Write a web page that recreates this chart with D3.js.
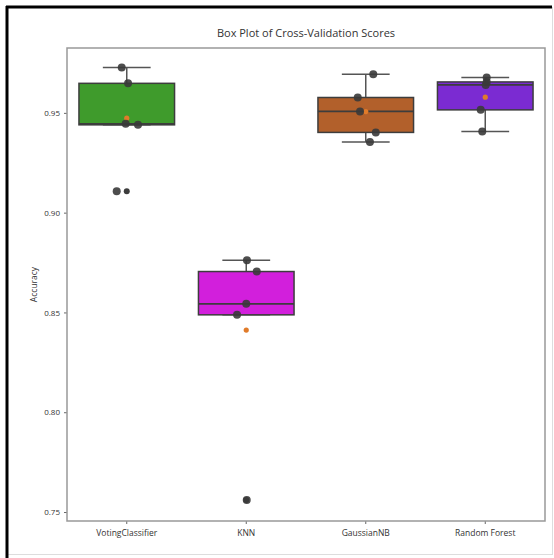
<!DOCTYPE html>
<html>
<head>
<meta charset="utf-8">
<script src="https://cdn.jsdelivr.net/npm/d3@7"></script>
<style>
    body { margin: 0; background: #fff; }
    svg text { font-family: "Open Sans", "DejaVu Sans", sans-serif; fill: #333; }
</style>
</head>
<body>
<div id="chart"></div>
<script>
;(function () {

    // models and their 5-fold cross-validation accuracies
    var models = ['VotingClassifier', 'KNN', 'GaussianNB', 'Random Forest'];
    var votingScores = [0.9727, 0.9648, 0.9445, 0.9440, 0.9107];
    var knnScores = [0.8762, 0.8705, 0.8543, 0.8488, 0.7560];
    var gaussianScores = [0.9693, 0.9577, 0.9507, 0.9402, 0.9354];
    var forestScores = [0.9677, 0.9655, 0.9640, 0.9515, 0.9407];
    // strip-plot jitter, fraction of band width
    var votingJitter = [-0.042, 0.011, -0.009, 0.094, -0.084];
    var knnJitter = [0.006, 0.088, 0.0, -0.077, 0.004];
    var gaussianJitter = [0.063, -0.067, -0.048, 0.084, 0.035];
    var forestJitter = [0.012, 0.012, 0.004, -0.038, -0.025];
    var boxColors = ['#3f9b2c', '#d21fdc', '#b2602b', '#7b2bd2'];
    var yTicks = [0.75, 0.80, 0.85, 0.90, 0.95];

    var scores = [votingScores, knnScores, gaussianScores, forestScores];
    var jitters = [votingJitter, knnJitter, gaussianJitter, forestJitter];

    var width = 554
        , height = 558
        , margin = {top: 48, right: 9, bottom: 37, left: 67};

    var svg = d3.select('#chart').append('svg')
        .attr('width', width)
        .attr('height', height);

    // screenshot frame
    svg.append('rect')
        .attr('x', 7.5).attr('y', 7.5)
        .attr('width', 545).attr('height', 547)
        .attr('fill', 'none')
        .attr('stroke', '#ddd');
    svg.append('line')
        .attr('x1', 7).attr('x2', 7).attr('y1', 6).attr('y2', height)
        .attr('stroke', '#000').attr('stroke-width', 3);
    svg.append('line')
        .attr('x1', 6).attr('x2', 552).attr('y1', 7).attr('y2', 7)
        .attr('stroke', '#000').attr('stroke-width', 3);

    var x = d3.scaleBand()
        .domain(models)
        .range([margin.left, width - margin.right]);

    var y = d3.scaleLinear()
        .domain([0.7455, 0.9825])
        .range([height - margin.bottom, margin.top]);

    var g = svg.append('g');

    // axes
    g.append('g')
        .attr('transform', 'translate(' + margin.left + ',0)')
        .call(d3.axisLeft(y).tickValues(yTicks).tickFormat(d3.format('.2f')).tickSize(3).tickPadding(4))
        .call(function (a) {
            a.select('.domain').remove();
            a.selectAll('line').attr('stroke', '#666');
            a.selectAll('text').attr('font-size', 8).attr('fill', '#444');
        });

    g.append('g')
        .attr('transform', 'translate(0,' + (height - margin.bottom) + ')')
        .call(d3.axisBottom(x).tickSize(3).tickPadding(6))
        .call(function (a) {
            a.select('.domain').remove();
            a.selectAll('line').attr('stroke', '#666');
            a.selectAll('text').attr('font-size', 8.5).attr('fill', '#333');
        });

    var bw = x.bandwidth() * 0.8;

    models.forEach(function (m, i) {
        var vals = scores[i].slice().sort(d3.ascending);
        var q1 = d3.quantile(vals, 0.25)
            , med = d3.quantile(vals, 0.5)
            , q3 = d3.quantile(vals, 0.75)
            , iqr = q3 - q1
            , lo = d3.min(vals.filter(function (v) { return v >= q1 - 1.5 * iqr; }))
            , hi = d3.max(vals.filter(function (v) { return v <= q3 + 1.5 * iqr; }))
            , fliers = vals.filter(function (v) { return v < lo || v > hi; })
            , cx = x(m) + x.bandwidth() / 2;

        var bg = g.append('g');

        // whiskers
        [[q3, hi], [lo, q1]].forEach(function (w) {
            if (w[0] === w[1]) return;
            bg.append('line')
                .attr('x1', cx).attr('x2', cx)
                .attr('y1', y(w[0])).attr('y2', y(w[1]))
                .attr('stroke', '#555').attr('stroke-width', 1.5);
        });
        [lo, hi].forEach(function (v) {
            bg.append('line')
                .attr('x1', cx - bw / 4).attr('x2', cx + bw / 4)
                .attr('y1', y(v)).attr('y2', y(v))
                .attr('stroke', '#555').attr('stroke-width', 1.5);
        });

        bg.append('rect')
            .attr('x', cx - bw / 2)
            .attr('y', y(q3))
            .attr('width', bw)
            .attr('height', y(q1) - y(q3))
            .attr('fill', boxColors[i])
            .attr('stroke', '#3d3d3d')
            .attr('stroke-width', 1.5);

        bg.append('line')
            .attr('x1', cx - bw / 2).attr('x2', cx + bw / 2)
            .attr('y1', y(med)).attr('y2', y(med))
            .attr('stroke', '#3d3d3d').attr('stroke-width', 1.8);

        bg.selectAll('.flier')
            .data(fliers)
            .enter().append('circle')
            .attr('class', 'flier')
            .attr('cx', cx)
            .attr('cy', function (d) { return y(d); })
            .attr('r', 3)
            .attr('fill', '#3d3d3d');

        // mean marker
        bg.append('circle')
            .attr('cx', cx)
            .attr('cy', y(d3.mean(vals)))
            .attr('r', 2.6)
            .attr('fill', '#e07b2a');

        // strip points
        bg.selectAll('.pt')
            .data(scores[i])
            .enter().append('circle')
            .attr('class', 'pt')
            .attr('cx', function (d, k) { return cx + jitters[i][k] * x.bandwidth(); })
            .attr('cy', function (d) { return y(d); })
            .attr('r', 4)
            .attr('fill', '#3a3a3a')
            .attr('fill-opacity', 0.9);
    });

    // plot frame
    g.append('rect')
        .attr('x', margin.left)
        .attr('y', margin.top)
        .attr('width', width - margin.left - margin.right)
        .attr('height', height - margin.top - margin.bottom)
        .attr('fill', 'none')
        .attr('stroke', '#999')
        .attr('stroke-width', 1.5);

    svg.append('text')
        .attr('x', margin.left + (width - margin.left - margin.right) / 2)
        .attr('y', 37)
        .attr('text-anchor', 'middle')
        .attr('font-size', 11)
        .text('Box Plot of Cross-Validation Scores');

    svg.append('text')
        .attr('transform', 'translate(37,' + (margin.top + (height - margin.top - margin.bottom) / 2) + ') rotate(-90)')
        .attr('text-anchor', 'middle')
        .attr('font-size', 8.5)
        .text('Accuracy');

}());
</script>
</body>
</html>
